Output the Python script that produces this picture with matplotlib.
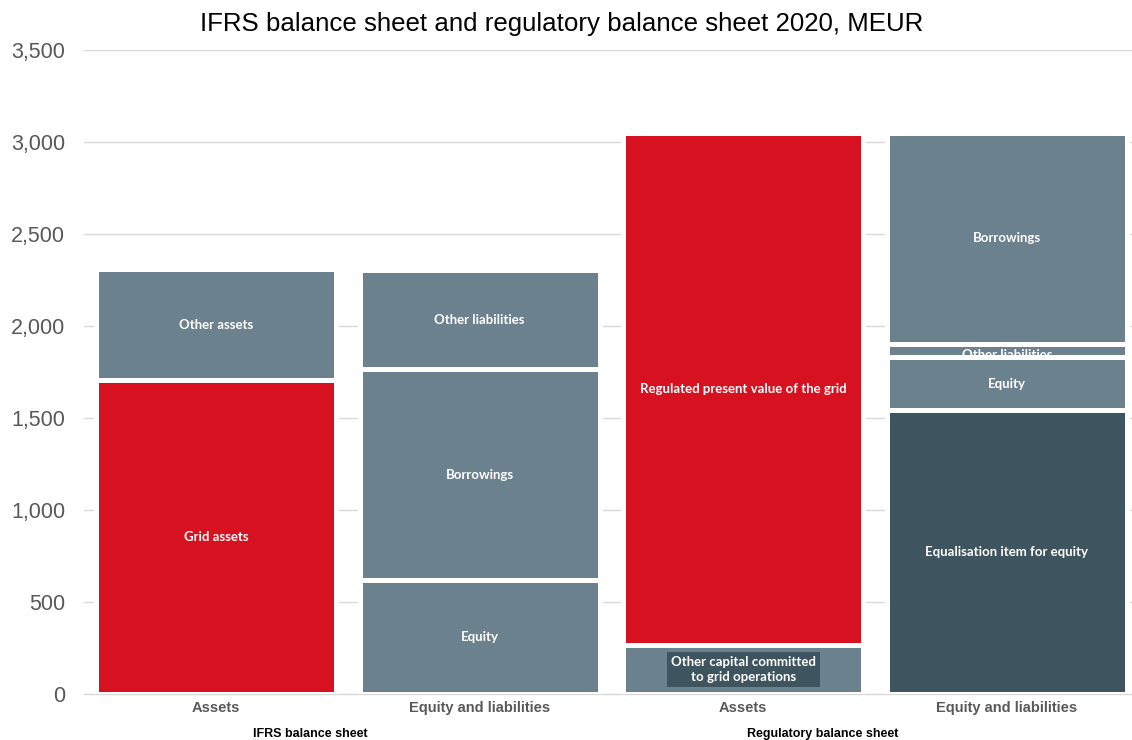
import matplotlib
matplotlib.use("Agg")
import matplotlib.pyplot as plt

# ---- data ----
categories = ["Assets", "Equity and liabilities", "Assets", "Equity and liabilities"]
groups = ["IFRS balance sheet", "Regulatory balance sheet"]

# stacked segments per column (bottom -> top)
ifrs_assets_labels = ["Grid assets", "Other assets"]
ifrs_assets_values = [1705, 605]
ifrs_el_labels = ["Equity", "Borrowings", "Other liabilities"]
ifrs_el_values = [620, 1145, 540]
reg_assets_labels = ["Other capital committed\nto grid operations", "Regulated present value of the grid"]
reg_assets_values = [265, 2785]
reg_el_labels = ["Equalisation item for equity", "Equity", "Other liabilities", "Borrowings"]
reg_el_values = [1542, 290, 70, 1148]

yticks = [0, 500, 1000, 1500, 2000, 2500, 3000, 3500]

RED = "#D7111F"
GREY = "#6C818E"
DARK = "#3E545E"
ifrs_assets_colors = [RED, GREY]
ifrs_el_colors = [GREY, GREY, GREY]
reg_assets_colors = [GREY, RED]
reg_el_colors = [DARK, GREY, GREY, GREY]

columns = [
    (ifrs_assets_labels, ifrs_assets_values, ifrs_assets_colors),
    (ifrs_el_labels, ifrs_el_values, ifrs_el_colors),
    (reg_assets_labels, reg_assets_values, reg_assets_colors),
    (reg_el_labels, reg_el_values, reg_el_colors),
]

fig = plt.figure(figsize=(11.32, 7.40), dpi=100)
ax = fig.add_axes([0.0742, 0.062, 0.9258, 0.8705])

label_font = ["Lato", "DejaVu Sans"]
width = 0.91
for i, (labs, vals, cols) in enumerate(columns):
    bottom = 0
    for lab, v, c in zip(labs, vals, cols):
        bars = ax.bar(i, v, width=width, bottom=bottom, color=c,
                      edgecolor="white", linewidth=3.6, zorder=3)
        yc = bottom + v / 2
        if lab.startswith("Other capital"):
            ax.text(i, yc, lab, ha="center", va="center", color="white",
                    fontsize=9.5, fontweight="bold", family=label_font, zorder=5,
                    linespacing=1.3,
                    bbox=dict(boxstyle="square,pad=0.3", fc=DARK, ec="none"))
        elif v < 150:
            t = ax.text(i, yc - 25, lab, ha="center", va="center", color="white",
                        fontsize=9.5, fontweight="bold", family=label_font, zorder=5)
            t.set_clip_path(bars.patches[0])
        else:
            ax.text(i, yc, lab, ha="center", va="center", color="white",
                    fontsize=9.5, fontweight="bold", family=label_font, zorder=5)
        bottom += v

ax.set_xlim(-0.5, 3.474)
ax.set_ylim(0, 3500)
ax.set_yticks(yticks)
ax.set_yticklabels([f"{t:,}" for t in yticks], fontsize=15.5, color="#595959",
                   family=["Liberation Sans", "DejaVu Sans"])
ax.set_xticks(range(4))
ax.set_xticklabels(categories, fontsize=10.5, fontweight="bold", color="#595959",
                   family=["Liberation Sans", "DejaVu Sans"])
ax.tick_params(axis="y", length=0, pad=13.5)
ax.tick_params(axis="x", length=0, pad=5)
ax.yaxis.grid(True, color="#D9D9D9", linewidth=1, zorder=0)
ax.set_axisbelow(True)
for s in ["top", "right", "left"]:
    ax.spines[s].set_visible(False)
ax.spines["bottom"].set_color("#D9D9D9")
ax.spines["bottom"].set_linewidth(1)

# group labels
ax.text(0.36, -0.062, groups[0], transform=ax.get_xaxis_transform(), ha="center", va="center",
        fontsize=9, fontweight="bold", color="black", family=["Liberation Sans", "DejaVu Sans"])
ax.text(2.30, -0.062, groups[1], transform=ax.get_xaxis_transform(), ha="center", va="center",
        fontsize=9, fontweight="bold", color="black", family=["Liberation Sans", "DejaVu Sans"])

fig.text(0.496, 0.968, "IFRS balance sheet and regulatory balance sheet 2020, MEUR",
         ha="center", va="center", fontsize=18.6, color="black",
         family=["Liberation Sans", "DejaVu Sans"])

fig.savefig("out.png", dpi=100)
